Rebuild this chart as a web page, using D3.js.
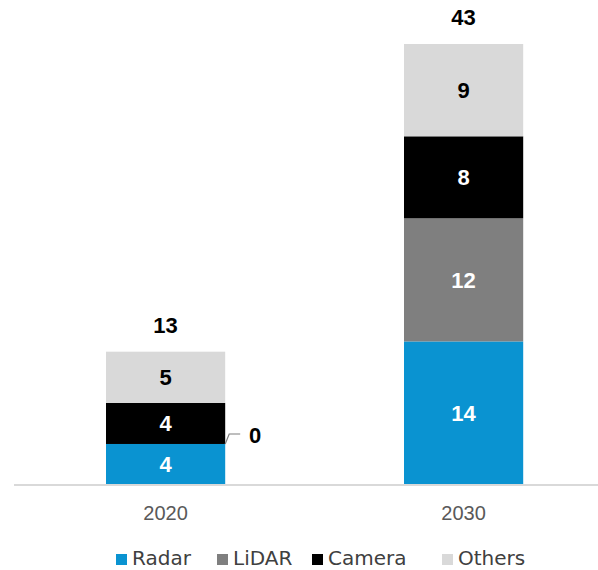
<!DOCTYPE html>
<html>
<head>
<meta charset="utf-8">
<script src="https://cdn.jsdelivr.net/npm/d3@7"></script>
<style>
  html, body { margin: 0; padding: 0; background: #fff; }
  svg { display: block; font-family: "Liberation Sans", Arial, sans-serif; }
</style>
</head>
<body>
<svg id="chart" width="598" height="570"></svg>
<script>
// Sensor market by year, stacked by technology
const years = ["2020", "2030"];
const seriesNames = ["Radar", "LiDAR", "Camera", "Others"];
const radar  = [4, 14];
const lidar  = [0, 12];
const camera = [4, 8];
const others = [5, 9];
const totals = [13, 43];
const colors = ["#0A93D1", "#7F7F7F", "#000000", "#D9D9D9"];
const labelColors = ["#ffffff", "#ffffff", "#ffffff", "#000000"];

const rows = years.map((y, i) => ({
  year: y, Radar: radar[i], LiDAR: lidar[i], Camera: camera[i], Others: others[i], total: totals[i]
}));

const svg = d3.select("#chart");
const baseY = 485, topY = 44;

const y = d3.scaleLinear().domain([0, 43]).range([baseY, topY]);
const x = d3.scaleBand().domain(years).range([-72.8, 702]).padding(0.6);

const stacked = d3.stack().keys(seriesNames)(rows);

// bars
const layers = svg.append("g").selectAll("g")
  .data(stacked).join("g")
  .attr("fill", (d, i) => colors[i]);

layers.selectAll("rect")
  .data(d => d.map(v => ({ v, key: d.key })))
  .join("rect")
  .attr("x", d => x(d.v.data.year))
  .attr("width", x.bandwidth())
  .attr("y", d => y(d.v[1]))
  .attr("height", d => y(d.v[0]) - y(d.v[1]));

const boldLabel = sel => sel
  .attr("text-anchor", "middle")
  .attr("dy", "0.36em")
  .attr("font-size", 22)
  .attr("font-weight", "bold");

// segment value labels
stacked.forEach((layer, si) => {
  layer.forEach(v => {
    const val = v[1] - v[0];
    const cx = x(v.data.year) + x.bandwidth() / 2;
    if (val > 0) {
      svg.append("text")
        .call(boldLabel)
        .attr("x", cx)
        .attr("y", (y(v[0]) + y(v[1])) / 2)
        .attr("fill", labelColors[si])
        .text(val);
    } else {
      // zero-height segment: callout label to the right
      const ex = x(v.data.year) + x.bandwidth();
      const ey = y(v[1]);
      svg.append("path")
        .attr("d", `M${ex},${ey} L${ex + 4},${ey - 10} L${ex + 15},${ey - 10}`)
        .attr("fill", "none")
        .attr("stroke", "#7F7F7F")
        .attr("stroke-width", 1.2);
      svg.append("text")
        .call(boldLabel)
        .attr("x", ex + 30)
        .attr("y", ey - 9)
        .attr("fill", "#000")
        .text(val);
    }
  });
});

// totals above bars
svg.append("g").selectAll("text")
  .data(rows).join("text")
  .call(boldLabel)
  .attr("x", d => x(d.year) + x.bandwidth() / 2)
  .attr("y", d => y(d.total) - 27)
  .attr("fill", "#000")
  .text(d => d.total);

// category axis
const axis = svg.append("g")
  .attr("transform", `translate(0,${baseY})`)
  .call(d3.axisBottom(x).tickSize(0).tickPadding(21));
axis.select(".domain").remove();
axis.append("line")
  .attr("x1", 14).attr("x2", 598)
  .attr("stroke", "#D9D9D9").attr("stroke-width", 2);
axis.selectAll(".tick text")
  .attr("font-family", "Liberation Sans, Arial, sans-serif")
  .attr("font-size", 20)
  .attr("fill", "#595959");

// legend
const legendX = [116, 217, 312, 442];
const legend = svg.append("g");
seriesNames.forEach((name, i) => {
  legend.append("rect")
    .attr("x", legendX[i]).attr("y", 554)
    .attr("width", 11).attr("height", 11)
    .attr("fill", colors[i]);
  legend.append("text")
    .attr("x", legendX[i] + 16).attr("y", 565)
    .attr("font-family", "DejaVu Sans, sans-serif")
    .attr("font-size", 20)
    .attr("fill", "#404040")
    .text(name);
});
</script>
</body>
</html>
